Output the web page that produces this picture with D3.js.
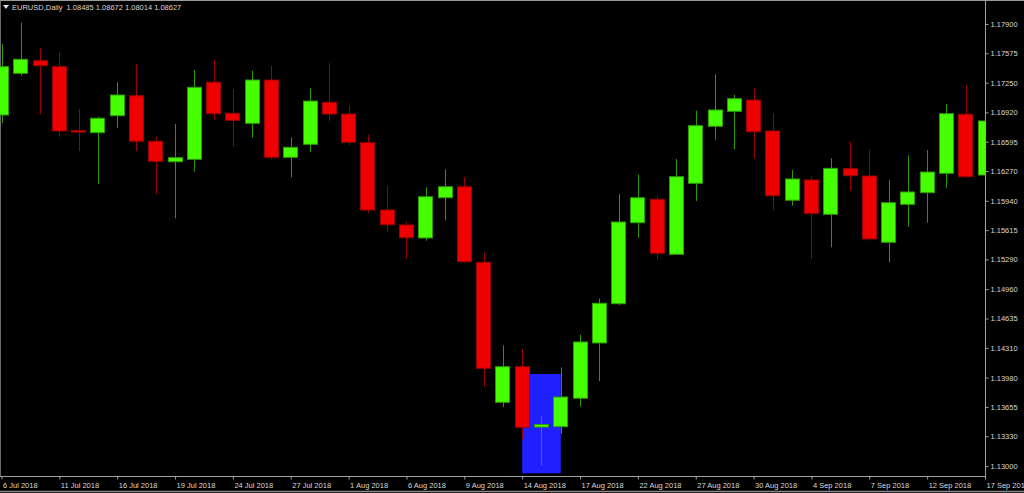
<!DOCTYPE html>
<html>
<head>
<meta charset="utf-8">
<script src="https://cdn.jsdelivr.net/npm/d3@7"></script>
<style>
  html, body { margin: 0; padding: 0; background: #000; overflow: hidden; }
  svg { display: block; }
</style>
</head>
<body>
<svg id="chart" width="1024" height="493"></svg>
<script>
// ---------- data ----------
const titleText = "EURUSD,Daily  1.08485 1.08672 1.08014 1.08627";
const dates = ["2018-07-06","2018-07-09","2018-07-10","2018-07-11","2018-07-12","2018-07-13",
  "2018-07-16","2018-07-17","2018-07-18","2018-07-19","2018-07-20","2018-07-23","2018-07-24",
  "2018-07-25","2018-07-26","2018-07-27","2018-07-30","2018-07-31","2018-08-01","2018-08-02",
  "2018-08-03","2018-08-06","2018-08-07","2018-08-08","2018-08-09","2018-08-10","2018-08-13",
  "2018-08-14","2018-08-15","2018-08-16","2018-08-17","2018-08-20","2018-08-21","2018-08-22",
  "2018-08-23","2018-08-24","2018-08-27","2018-08-28","2018-08-29","2018-08-30","2018-08-31",
  "2018-09-03","2018-09-04","2018-09-05","2018-09-06","2018-09-07","2018-09-10","2018-09-11",
  "2018-09-12","2018-09-13","2018-09-14","2018-09-17"];
const openV = [1.16891,1.17353,1.17493,1.17427,1.16719,1.16695,1.16883,1.17105,1.16600,1.16373,1.16400,1.17254,1.16910,1.16799,1.17279,1.16422,1.16566,1.17032,1.16902,1.16584,1.15838,1.15672,1.15528,1.15974,1.16096,1.15258,1.13706,1.14101,1.13432,1.13436,1.13751,1.14364,1.14799,1.15697,1.15957,1.15347,1.16134,1.16766,1.16932,1.17057,1.16714,1.15946,1.16171,1.15790,1.16296,1.16215,1.15480,1.15901,1.16030,1.16245,1.16899,1.16226];
const highV = [1.17678,1.17914,1.17631,1.17586,1.16958,1.16872,1.17254,1.17453,1.16651,1.16791,1.17390,1.17501,1.17176,1.17382,1.17438,1.16644,1.17187,1.17464,1.16999,1.16673,1.16107,1.15708,1.16090,1.16289,1.16201,1.15365,1.14338,1.14297,1.13554,1.14094,1.14456,1.14855,1.16013,1.16229,1.15997,1.16403,1.16939,1.17342,1.17113,1.17187,1.16910,1.16281,1.16207,1.16411,1.16595,1.16503,1.16171,1.16444,1.16503,1.17013,1.17224,1.16991];
const lowV = [1.16802,1.17327,1.16899,1.16651,1.16492,1.16126,1.16750,1.16492,1.16015,1.15746,1.16263,1.16836,1.16540,1.16640,1.16400,1.16201,1.16478,1.16828,1.16559,1.15808,1.15597,1.15298,1.15498,1.15724,1.15254,1.13879,1.13651,1.13296,1.13011,1.13355,1.13657,1.13942,1.14785,1.15531,1.15291,1.15345,1.15938,1.16617,1.16511,1.16411,1.15838,1.15886,1.15295,1.15425,1.16052,1.15498,1.15258,1.15650,1.15697,1.16085,1.16201,1.16178];
const closeV = [1.17427,1.17509,1.17438,1.16714,1.16708,1.16855,1.17113,1.16600,1.16378,1.16418,1.17198,1.16906,1.16832,1.17279,1.16422,1.16533,1.17046,1.16902,1.16589,1.15838,1.15675,1.15531,1.15985,1.16096,1.15265,1.14083,1.14101,1.13429,1.13460,1.13765,1.14375,1.14804,1.15705,1.15974,1.15358,1.16207,1.16773,1.16947,1.17072,1.16706,1.15997,1.16182,1.15801,1.16300,1.16218,1.15517,1.15919,1.16038,1.16259,1.16906,1.16207,1.16825];
const yTicks = [1.13000,1.13330,1.13655,1.13980,1.14310,1.14635,1.14960,1.15290,1.15615,1.15940,1.16270,1.16595,1.16920,1.17250,1.17575,1.17900];
const xTickDates = ["2018-07-06","2018-07-11","2018-07-16","2018-07-19","2018-07-24","2018-07-27",
  "2018-08-01","2018-08-06","2018-08-09","2018-08-14","2018-08-17","2018-08-22","2018-08-27",
  "2018-08-30","2018-09-04","2018-09-07","2018-09-12","2018-09-17"];
// highlighted rectangle object (start date, end date, top price, bottom price)
const boxDates = ["2018-08-14","2018-08-16"];
const boxPrices = [1.14020, 1.12919];

// ---------- layout ----------
const W = 1024, H = 493;
const plotRight = 985, plotBottom = 476;
const svg = d3.select("#chart");
const FONT = "'Liberation Sans', Arial, sans-serif";

const x = d3.scalePoint().domain(dates).range([1.5, 985]);
const y = d3.scaleLinear().domain([1.13, 1.179]).range([466, 24]);
const bodyW = 15;

svg.append("rect").attr("width", W).attr("height", H).attr("fill", "#000");

svg.append("defs").append("clipPath").attr("id", "plotClip")
  .append("rect").attr("x", 0).attr("y", 0).attr("width", plotRight + 1).attr("height", plotBottom);

// frame lines
svg.append("line").attr("x1", 0.5).attr("x2", 0.5).attr("y1", 0).attr("y2", plotBottom)
  .attr("stroke", "#6a6a6a").attr("stroke-width", 1);
svg.append("line").attr("x1", 0).attr("x2", W).attr("y1", 0.5).attr("y2", 0.5)
  .attr("stroke", "#9a9a9a").attr("stroke-width", 1);
svg.append("line").attr("x1", 0).attr("x2", W).attr("y1", 491.5).attr("y2", 491.5)
  .attr("stroke", "#8a8a8a").attr("stroke-width", 1.5);

const plot = svg.append("g").attr("clip-path", "url(#plotClip)");

// highlight box (behind candles)
plot.append("rect")
  .attr("x", x(boxDates[0]))
  .attr("y", y(boxPrices[0]))
  .attr("width", x(boxDates[1]) - x(boxDates[0]))
  .attr("height", y(boxPrices[1]) - y(boxPrices[0]))
  .attr("fill", "#1f1fff");

const bars = dates.map((d, i) => ({ d, o: openV[i], h: highV[i], l: lowV[i], c: closeV[i] }));
const bullFill = "#46ff00", bullLine = "#2f9a00";
const bearFill = "#ee0000", bearLine = "#9c0000";

const g = plot.selectAll("g.candle").data(bars).join("g").attr("class", "candle");
g.append("line")
  .attr("x1", b => Math.round(x(b.d)) + 0.5)
  .attr("x2", b => Math.round(x(b.d)) + 0.5)
  .attr("y1", b => y(b.h))
  .attr("y2", b => y(b.l))
  .attr("stroke", b => b.c >= b.o ? bullLine : bearLine)
  .attr("stroke-width", 1);
g.append("rect")
  .attr("x", b => Math.round(x(b.d) - bodyW / 2) + 0.5)
  .attr("y", b => y(Math.max(b.o, b.c)))
  .attr("width", bodyW - 1)
  .attr("height", b => Math.max(1.5, Math.abs(y(b.o) - y(b.c))))
  .attr("fill", b => b.c >= b.o ? bullFill : bearFill)
  .attr("stroke", b => b.c >= b.o ? bullLine : bearLine)
  .attr("stroke-width", 1);

// axes lines
svg.append("line").attr("x1", plotRight + 0.5).attr("x2", plotRight + 0.5)
  .attr("y1", 0).attr("y2", plotBottom + 0.5).attr("stroke", "#a0a0a0").attr("stroke-width", 1);
svg.append("line").attr("x1", 0).attr("x2", plotRight + 1)
  .attr("y1", plotBottom + 0.5).attr("y2", plotBottom + 0.5).attr("stroke", "#a0a0a0").attr("stroke-width", 1);

// right price axis
const yAxis = d3.axisRight(y).tickValues(yTicks).tickFormat(d3.format(".5f")).tickSize(3).tickPadding(2);
const yg = svg.append("g").attr("transform", `translate(${plotRight + 0.5},0)`).call(yAxis);
yg.select(".domain").remove();
yg.selectAll(".tick line").attr("stroke", "#a0a0a0");
yg.selectAll(".tick text").attr("fill", "#d8d8d8").attr("font-family", FONT).attr("font-size", "7.5px");

// bottom time axis
const parse = d3.timeParse("%Y-%m-%d");
const fmt = d3.timeFormat("%-d %b %Y");
const xAxis = d3.axisBottom(x).tickValues(xTickDates).tickFormat(d => fmt(parse(d))).tickSize(3).tickPadding(3);
const xg = svg.append("g").attr("transform", `translate(0,${plotBottom + 0.5})`).call(xAxis);
xg.select(".domain").remove();
xg.selectAll(".tick line").attr("stroke", "#a0a0a0");
xg.selectAll(".tick text").attr("fill", "#d8d8d8").attr("font-family", FONT)
  .attr("font-size", "7.5px").attr("text-anchor", "start").attr("dx", 1);

// title
svg.append("path").attr("d", "M3,5 L9,5 L6,9 Z").attr("fill", "#e0e0e0");
svg.append("text").attr("x", 12).attr("y", 10).attr("fill", "#d8d8d8")
  .attr("font-family", FONT).attr("font-size", "7.5px").style("white-space", "pre")
  .text(titleText);
</script>
</body>
</html>
